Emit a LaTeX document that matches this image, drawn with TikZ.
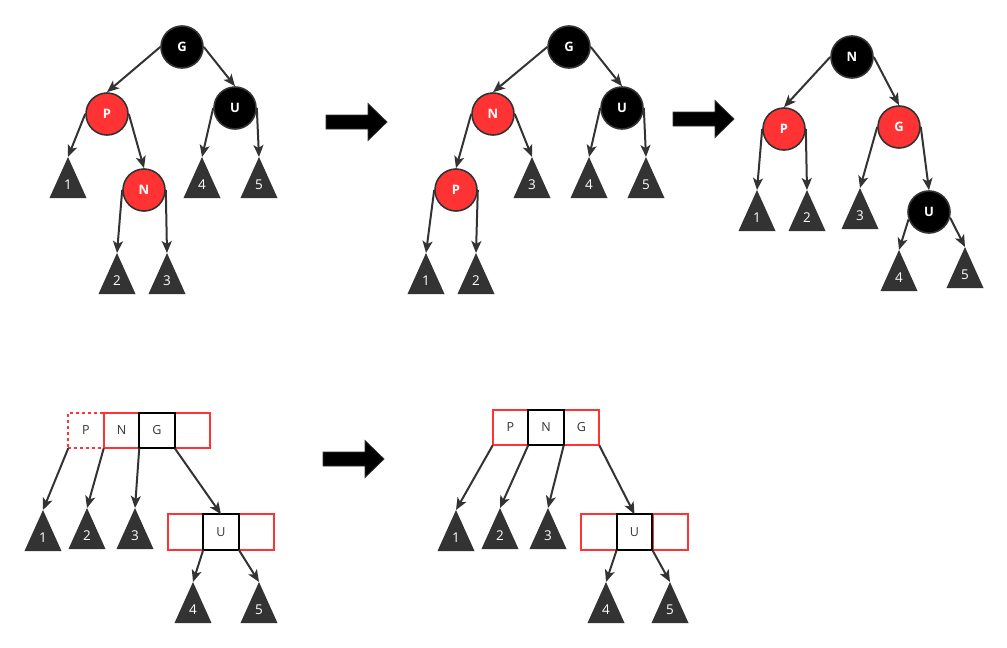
\documentclass[tikz,border=0pt]{standalone}
\usepackage{fontspec}
\setmainfont{Open Sans}
\usetikzlibrary{arrows.meta,positioning}

\definecolor{rbred}{HTML}{FF3333}
\definecolor{dgray}{HTML}{333333}

\tikzset{
  rbnode/.style={circle,draw=dgray,line width=1.6pt,minimum size=42pt,inner sep=0pt,
    text=white,font=\fontsize{13}{15}\selectfont\bfseries},
  red node/.style={rbnode,fill=rbred},
  black node/.style={rbnode,fill=black},
  cell/.style={rectangle,minimum size=35.5pt,inner sep=0pt,outer sep=0pt,line width=2pt,
    text=dgray,font=\fontsize{12.5}{15}\selectfont},
  red cell/.style={cell,draw=rbred},
  black cell/.style={cell,draw=black,line width=2.4pt},
  sublabel/.style={text=white,inner sep=0pt,font=\fontsize{13.5}{15}\selectfont},
  bigarrow/.style={fill=black,draw=black!80,line width=0.8pt}
}

% subtree triangle: name, apex x, apex y, label
\newcommand{\subtree}[4]{%
  \coordinate (#1) at (#2,#3);
  \fill[dgray] (#1) -- ++(-18.5,41) -- ++(37,0) -- cycle;
  \node[sublabel] (#1-l) at ([yshift=-28pt]#1) {#4};
}

\begin{document}
\begin{tikzpicture}[x=1pt,y=-1pt,>={Stealth[length=12pt,width=10pt,inset=3pt]}]
  \useasboundingbox (0,0) rectangle (1007,648);

  % big arrows
  \foreach \ax/\ay in {326/122, 673/119, 323/459}
    \filldraw[bigarrow] (\ax,\ay-7) -- (\ax+42,\ay-7) -- (\ax+42,\ay-18.5) -- (\ax+61,\ay)
      -- (\ax+42,\ay+18.5) -- (\ax+42,\ay+7) -- (\ax,\ay+7) -- cycle;

  % tree 1
  \node[black node] (G1) at (182,47) {G};
  \node[red node] (P1) at (107,114) {P};
  \node[black node] (U1) at (235,108) {U};
  \node[red node] (N1) at (144,190) {N};
  \subtree{a1}{68}{157}{1}
  \subtree{a4}{202}{157}{4}
  \subtree{a5}{259}{157}{5}
  \subtree{a2}{117}{253}{2}
  \subtree{a3}{167}{253}{3}

  % tree 2
  \node[black node] (G2) at (569,47) {G};
  \node[red node] (N2) at (493,114) {N};
  \node[black node] (U2) at (622,108) {U};
  \node[red node] (P2) at (456,190) {P};
  \subtree{b3}{532}{157}{3}
  \subtree{b4}{589}{157}{4}
  \subtree{b5}{646}{157}{5}
  \subtree{b1}{426}{253}{1}
  \subtree{b2}{476}{253}{2}

  % tree 3
  \node[black node] (N3) at (852,57) {N};
  \node[red node] (P3) at (784,129) {P};
  \node[red node] (G3) at (899,127) {G};
  \node[black node] (U3) at (929,212) {U};
  \subtree{c1}{757}{190}{1}
  \subtree{c2}{807}{190}{2}
  \subtree{c3}{860}{188}{3}
  \subtree{c4}{899}{250}{4}
  \subtree{c5}{965}{247}{5}

  % 2-3-4 view, left
  \node[red cell,dashed,dash pattern=on 3pt off 3pt] (bP1) at (86,430.5) {P};
  \node[red cell,right=0pt of bP1] (bN1) {N};
  \node[red cell,right=35.5pt of bN1] (bE1) {};
  \node[black cell,right=0pt of bN1] (bG1) {G};
  \node[red cell] (bL1) at (185.5,532) {};
  \node[red cell] (bR1) at (256.5,532) {};
  \node[black cell,right=0pt of bL1] (bU1) {U};
  \subtree{d1}{43}{510}{1}
  \subtree{d2}{87}{508}{2}
  \subtree{d3}{135}{508}{3}
  \subtree{d4}{193}{582}{4}
  \subtree{d5}{259}{582}{5}

  % 2-3-4 view, right
  \node[red cell] (bP2) at (510.5,427.5) {P};
  \node[red cell,right=35.5pt of bP2] (bG2) {G};
  \node[black cell,right=0pt of bP2] (bN2) {N};
  \node[red cell] (bL2) at (599,532) {};
  \node[red cell] (bR2) at (670.5,532) {};
  \node[black cell,right=0pt of bL2] (bU2) {U};
  \subtree{e1}{456}{510}{1}
  \subtree{e2}{500}{508}{2}
  \subtree{e3}{548}{508}{3}
  \subtree{e4}{606}{582}{4}
  \subtree{e5}{670}{582}{5}

  \begin{scope}[every edge/.style={draw=dgray,line width=2pt}]
    \path [->] (G1.west) edge (P1.north);
    \path [->] (G1.east) edge (U1.north);
    \path [->] (P1.west) edge (a1);
    \path [->] (P1.east) edge (N1.north);
    \path [->] (N1.west) edge (a2);
    \path [->] (N1.east) edge (a3);
    \path [->] (U1.west) edge (a4);
    \path [->] (U1.east) edge (a5);

    \path [->] (G2.west) edge (N2.north);
    \path [->] (G2.east) edge (U2.north);
    \path [->] (N2.west) edge (P2.north);
    \path [->] (N2.east) edge (b3);
    \path [->] (U2.west) edge (b4);
    \path [->] (U2.east) edge (b5);
    \path [->] (P2.west) edge (b1);
    \path [->] (P2.east) edge (b2);

    \path [->] (N3.west) edge (P3.north);
    \path [->] (N3.east) edge (G3.north);
    \path [->] (P3.west) edge (c1);
    \path [->] (P3.east) edge (c2);
    \path [->] (G3.west) edge (c3);
    \path [->] (G3.east) edge (U3.north);
    \path [->] (U3.200) edge (c4);
    \path [->] (U3.-15) edge (c5);

    \path [->] (bP1.south west) edge (d1);
    \path [->] (bN1.south west) edge (d2);
    \path [->] (bG1.south west) edge (d3);
    \path [->] (bG1.south east) edge (bU1.north);
    \path [->] (bU1.south west) edge (d4);
    \path [->] (bU1.south east) edge (d5);

    \path [->] (bP2.south west) edge (e1);
    \path [->] (bN2.south west) edge (e2);
    \path [->] (bN2.south east) edge (e3);
    \path [->] (bG2.south east) edge (bU2.north);
    \path [->] (bU2.south west) edge (e4);
    \path [->] (bU2.south east) edge (e5);
  \end{scope}
\end{tikzpicture}
\end{document}
